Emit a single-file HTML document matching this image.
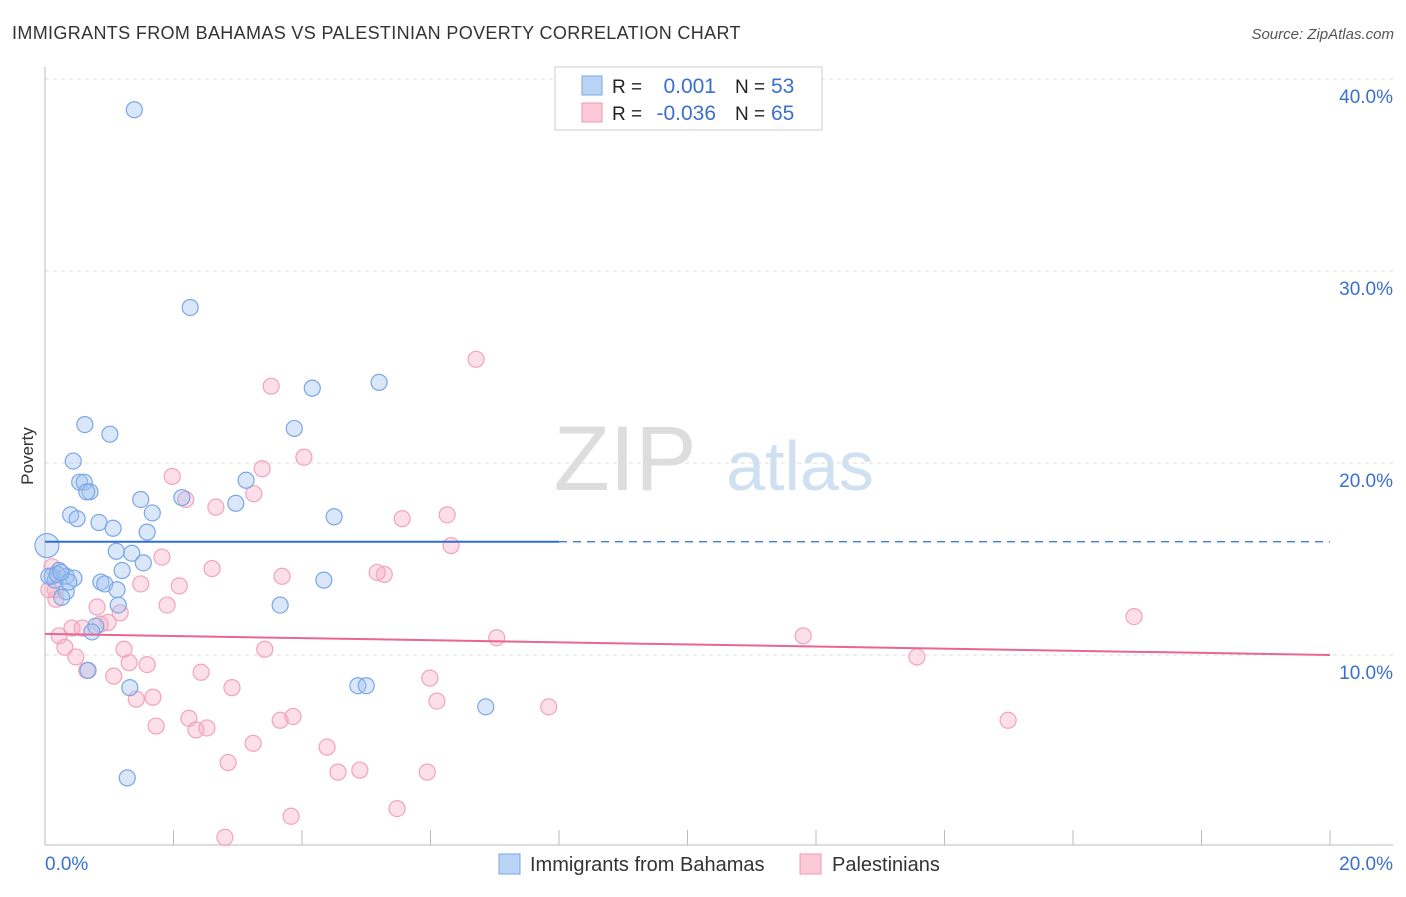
<!DOCTYPE html>
<html><head><meta charset="utf-8"><style>
body{margin:0;background:#fff;font-family:"Liberation Sans",sans-serif;}
svg text{font-family:"Liberation Sans",sans-serif;}
</style></head><body>
<svg id="chart" width="1406" height="892" xmlns="http://www.w3.org/2000/svg">
<text x="12" y="39" font-size="18" fill="#333" letter-spacing="0.35">IMMIGRANTS FROM BAHAMAS VS PALESTINIAN POVERTY CORRELATION CHART</text>
<text x="1394" y="39" font-size="15" fill="#555" font-style="italic" text-anchor="end">Source: ZipAtlas.com</text>
<text transform="translate(33,456) rotate(-90)" font-size="17" fill="#333" text-anchor="middle">Poverty</text>
<g>
<text x="625" y="490" font-size="92" fill="#ddd" font-family="Liberation Serif" text-anchor="middle">ZIP</text>
<text x="800" y="490" font-size="70" fill="#cfe0f3" text-anchor="middle">atlas</text>
</g>
<g id="grid"></g><g id="axes"></g><g id="pts"></g><g id="trends"></g>
<g>
<rect x="555" y="67" width="267" height="63" fill="#fff" stroke="#ccc"/>
<rect x="582" y="76" width="20" height="19" fill="#b9d3f5" stroke="#7aa6e6"/>
<rect x="582" y="103" width="20" height="19" fill="#fbc9d8" stroke="#f095b2"/>
<text x="612" y="93" font-size="19" fill="#222">R =</text><text x="716" y="93" font-size="21" fill="#3a70cc" text-anchor="end">0.001</text>
<text x="735" y="93" font-size="19" fill="#222">N =</text><text x="771" y="93" font-size="21" fill="#3a70cc">53</text>
<text x="612" y="120" font-size="19" fill="#222">R =</text><text x="716" y="120" font-size="21" fill="#3a70cc" text-anchor="end">-0.036</text>
<text x="735" y="120" font-size="19" fill="#222">N =</text><text x="771" y="120" font-size="21" fill="#3a70cc">65</text>
</g>
<g>
<rect x="499" y="854" width="21" height="20" fill="#b9d3f5" stroke="#7aa6e6"/>
<text x="530" y="871" font-size="20" fill="#333">Immigrants from Bahamas</text>
<rect x="800" y="854" width="21" height="20" fill="#fbc9d8" stroke="#f095b2"/>
<text x="832" y="871" font-size="20" fill="#333">Palestinians</text>
</g>
</svg>
<script>
const yTicks=[10,20,30,40];
const yTickLabels=["10.0%","20.0%","30.0%","40.0%"];
const blueX=[1.39,2.26,5.20,4.16,0.62,1.01,3.88,0.44,3.13,0.54,0.61,0.70,0.65,1.49,2.13,2.97,1.67,0.40,0.50,4.50,0.84,1.06,1.59,1.11,1.35,1.53,1.20,0.22,0.11,0.16,0.33,0.45,0.87,0.93,4.34,1.12,0.33,0.26,3.66,1.14,0.79,0.73,0.67,1.32,4.87,5.00,6.86,1.28,0.06,0.19,0.37,0.25];
const blueY=[38.4,28.1,24.2,23.9,22.0,21.5,21.8,20.1,19.1,19.0,19.0,18.5,18.5,18.1,18.2,17.9,17.4,17.3,17.1,17.2,16.9,16.6,16.4,15.4,15.3,14.8,14.4,14.4,14.1,13.9,14.1,14.0,13.8,13.7,13.9,13.4,13.3,13.0,12.6,12.6,11.5,11.2,9.2,8.3,8.4,8.4,7.3,3.6,14.1,14.2,13.8,14.3];
const pinkX=[6.71,3.52,4.03,3.38,1.98,2.19,3.25,2.66,6.26,5.56,6.32,1.82,2.60,0.11,3.69,5.28,5.17,1.49,2.09,0.16,0.17,1.90,0.81,1.17,0.98,16.95,0.42,0.86,0.58,0.22,7.03,11.80,0.31,1.23,3.42,0.48,13.57,1.31,1.59,0.65,2.43,1.07,5.99,2.91,1.68,1.42,6.10,7.84,2.24,1.73,2.35,2.52,3.66,3.86,14.99,3.24,4.39,2.85,4.56,4.90,5.95,5.48,3.83,2.80,0.06];
const pinkY=[25.4,24.0,20.3,19.7,19.3,18.1,18.4,17.7,17.3,17.1,15.7,15.1,14.5,14.6,14.1,14.2,14.3,13.7,13.6,13.4,12.9,12.6,12.5,12.2,11.7,12.0,11.4,11.6,11.4,11.0,10.9,11.0,10.4,10.3,10.3,9.9,9.9,9.6,9.5,9.2,9.1,8.9,8.8,8.3,7.8,7.7,7.6,7.3,6.7,6.3,6.1,6.2,6.6,6.8,6.6,5.4,5.2,4.4,3.9,4.0,3.9,2.0,1.6,0.5,13.4];
const blueTrend=[15.9,15.9];
const pinkTrend=[11.1,10.0];
const NS="http://www.w3.org/2000/svg";
const X=v=>45+v/20*1285, Y=v=>847-v*19.2;
function mk(tag,attrs,parent){const e=document.createElementNS(NS,tag);for(const k in attrs)e.setAttribute(k,attrs[k]);document.getElementById(parent).appendChild(e);return e;}
yTicks.forEach((t,i)=>{
 const l=mk('line',{x1:45,x2:1393,y1:Y(t),y2:Y(t),stroke:'#ddd','stroke-dasharray':'4,4'},'grid');
 
 
 const tx=mk('text',{x:1393,y:Y(t)+24,'font-size':19,fill:'#3a70cc','text-anchor':'end'},'grid');tx.textContent=yTickLabels[i];
 
 
});
const ax=mk('line',{x1:45,x2:1393,y1:845,y2:845,stroke:'#bbb'},'axes');


const ay=mk('line',{x1:45,x2:45,y1:67,y2:845,stroke:'#bbb'},'axes');


for(let i=0;i<=10;i++){const t=mk('line',{x1:X(i*2),x2:X(i*2),y1:830,y2:845,stroke:'#bbb'},'axes');
 
 }
const x0=mk('text',{x:45,y:870,'font-size':19,fill:'#3a70cc'},'axes');x0.textContent='0.0%';


const x1=mk('text',{x:1393,y:870,'font-size':19,fill:'#3a70cc','text-anchor':'end'},'axes');x1.textContent='20.0%';


pinkX.forEach((v,i)=>{const c=mk('circle',{cx:X(v),cy:Y(pinkY[i]),r:8,fill:'rgba(248,175,198,0.4)',stroke:'#f2a3bc','stroke-width':1.2},'pts');
 
 });
blueX.forEach((v,i)=>{const c=mk('circle',{cx:X(v),cy:Y(blueY[i]),r:8,fill:'rgba(160,195,240,0.4)',stroke:'#7aa6e6','stroke-width':1.2},'pts');
 
 });
const big=mk('circle',{cx:X(0.03),cy:Y(15.7),r:12,fill:'rgba(160,195,240,0.4)',stroke:'#7aa6e6','stroke-width':1.2},'pts');


const bt=mk('line',{x1:X(0),x2:X(8.0),y1:Y(blueTrend[0]),y2:Y(blueTrend[0]+(blueTrend[1]-blueTrend[0])*0.4),stroke:'#2f6fd0','stroke-width':2},'trends');


const bd=mk('line',{x1:X(8.0),x2:X(20),y1:Y(blueTrend[0]+(blueTrend[1]-blueTrend[0])*0.4),y2:Y(blueTrend[1]),stroke:'#2f6fd0','stroke-width':1.2,'stroke-dasharray':'8,6'},'trends');


const pt=mk('line',{x1:X(0),x2:X(20),y1:Y(pinkTrend[0]),y2:Y(pinkTrend[1]),stroke:'#e8668f','stroke-width':2},'trends');


</script>
</body></html>
